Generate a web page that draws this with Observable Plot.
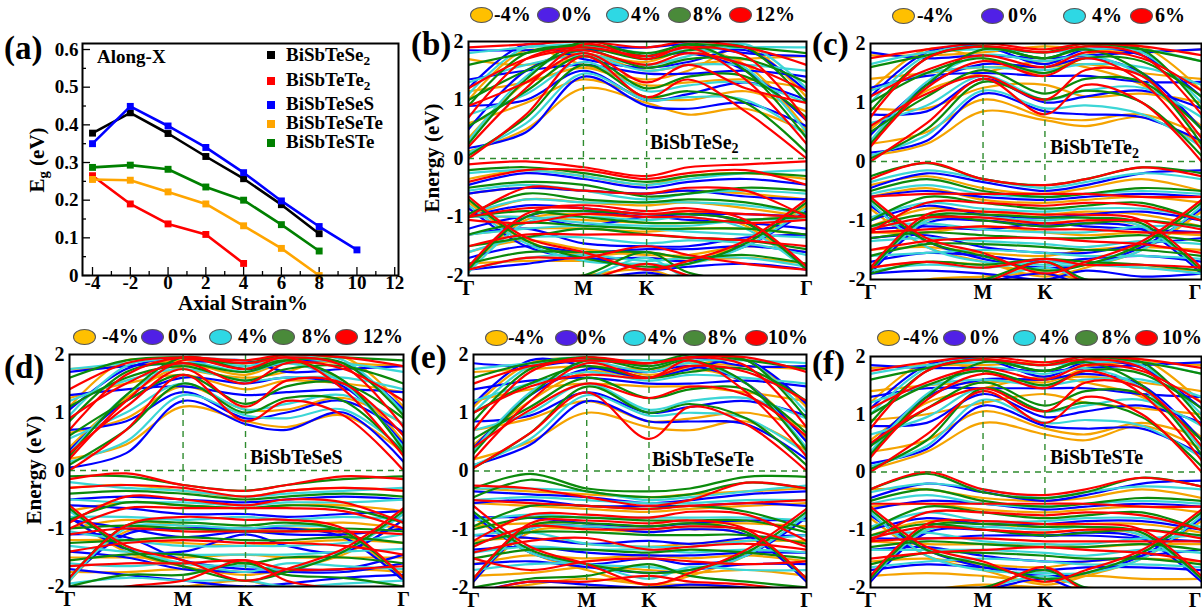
<!DOCTYPE html>
<html><head><meta charset="utf-8">
<script src="https://cdn.jsdelivr.net/npm/d3@7"></script>
<script src="https://cdn.jsdelivr.net/npm/@observablehq/plot@0.6"></script>
<style>
html,body{margin:0;padding:0;background:#fff;overflow:hidden;}
#fig{position:relative;width:1202px;height:613px;overflow:hidden;font-family:"Liberation Serif","Times New Roman",serif;font-weight:bold;color:#000;}
.abs{position:absolute;white-space:nowrap;line-height:1;}
.rot{position:absolute;white-space:nowrap;line-height:1;transform:translate(-50%,-50%) rotate(-90deg);}
.ell{position:absolute;border:1px solid #555;border-radius:50%;box-sizing:border-box;}
.sq{position:absolute;width:8px;height:8px;}
sub{font-size:0.7em;vertical-align:-0.3em;line-height:0;}
</style>
</head><body>
<div id="fig"></div>
<script>
// ---------------- DATA ----------------
// Panel (a): band gap vs axial strain (along X)
const strainA = [-4, -2, 0, 2, 4, 6, 8, 10];
const egBiSbTeSe2  = [0.378, 0.432, 0.377, 0.316, 0.257, 0.188, 0.111];
const egBiSbTeTe2  = [0.265, 0.190, 0.137, 0.109, 0.032];
const egBiSbTeSeS  = [0.350, 0.449, 0.397, 0.340, 0.273, 0.198, 0.130, 0.068];
const egBiSbTeSeTe = [0.255, 0.253, 0.222, 0.190, 0.132, 0.072, 0.000];
const egBiSbTeSTe  = [0.287, 0.293, 0.282, 0.235, 0.200, 0.135, 0.065];
const seriesNamesA = ["BiSbTeSe2", "BiSbTeTe2", "BiSbTeSeS", "BiSbTeSeTe", "BiSbTeSTe"];
const seriesColorsA = ["#000000", "#ff0000", "#0000ff", "#ffa500", "#008000"];
const xTicksA = [-4, -2, 0, 2, 4, 6, 8, 10, 12];
const xMinorA = [-3, -1, 1, 3, 5, 7, 9, 11];
const yTicksA = [0, 0.1, 0.2, 0.3, 0.4, 0.5, 0.6];
const yMinorA = [0.05, 0.15, 0.25, 0.35, 0.45, 0.55];

// Band structure panels: k-path sample points and labels
const kPos = [0, 0.17, 0.34, 0.527, 0.65, 0.82, 1];
const kTicks = [0, 0.34, 0.527, 1];
const kLabels = ["Γ", "M", "K", "Γ"];
const energyTicks = [-2, -1, 0, 1, 2];
const lineColors = ["#f5a300", "#0000ff", "#3cd6d6", "#0b8a0b", "#ff0000"];
const legendColors = ["#ffc000", "#5020e6", "#2ed8e4", "#4a8a3a", "#ff0000"];
const strainsB = ["-4%", "0%", "4%", "8%", "12%"];
const strainsC = ["-4%", "0%", "4%", "6%"];
const strainsD = ["-4%", "0%", "4%", "8%", "12%"];
const strainsE = ["-4%", "0%", "4%", "8%", "10%"];
const strainsF = ["-4%", "0%", "4%", "8%", "10%"];

// rows: [strain index, E(Γ), E(0.17), E(M), E(K), E(0.65), E(0.82), E(Γ)]
const bandsB = [
[0,0.12,0.5,1.2,0.95,0.75,0.85,0.45],[0,0.6,0.95,1.35,1.05,1.0,1.15,0.8],[0,1.15,1.3,1.55,1.25,1.3,1.35,1.2],[0,1.7,1.6,1.8,1.5,1.6,1.7,1.75],
[0,-0.35,-0.2,-0.3,-0.45,-0.3,-0.25,-0.35],[0,-0.6,-0.5,-0.55,-0.6,-0.55,-0.6,-0.7],[0,-1.0,-0.7,-0.75,-0.8,-0.75,-0.85,-1.0],[0,-1.0,-1.0,-1.05,-1.1,-1.1,-1.05,-1.0],
[0,-1.3,-1.2,-1.2,-1.25,-1.2,-1.2,-1.3],[0,-1.6,-1.4,-1.55,-1.65,-1.65,-1.5,-1.6],[0,-1.8,-1.75,-1.75,-1.7,-1.75,-1.7,-1.8],[0,-2.3,-2.1,-2.0,-1.9,-2.1,-2.2,-2.3],
[0,0.35,1.3,1.75,1.65,1.85,1.6,0.5],[0,1.0,1.85,1.6,1.35,1.5,1.9,1.05],[0,-1.9,-1.05,-0.95,-1.0,-0.9,-1.15,-1.9],[0,-0.75,-1.4,-1.65,-1.6,-1.7,-1.45,-0.8],
[1,0.18,0.45,1.4,0.9,0.85,0.95,0.55],[1,0.9,1.0,1.5,1.0,1.1,1.3,1.0],[1,1.35,1.5,1.6,1.45,1.45,1.5,1.4],[1,1.85,1.85,1.9,1.9,1.95,1.8,1.75],
[1,-0.45,-0.25,-0.35,-0.5,-0.4,-0.35,-0.45],[1,-0.6,-0.5,-0.55,-0.6,-0.55,-0.65,-0.7],[1,-1.0,-0.8,-0.85,-0.95,-0.95,-0.95,-1.0],[1,-1.2,-1.0,-1.15,-1.0,-1.05,-1.1,-1.2],
[1,-1.3,-1.2,-1.45,-1.5,-1.5,-1.35,-1.3],[1,-1.7,-1.5,-1.6,-1.55,-1.55,-1.5,-1.6],[1,-1.9,-1.8,-1.7,-1.9,-1.85,-1.8,-1.9],[1,-2.2,-2.2,-2.1,-1.95,-2.1,-2.2,-2.2],
[1,0.5,1.5,1.85,1.75,1.8,1.5,0.65],[1,1.2,1.95,1.7,1.55,1.65,1.85,1.15],[1,-1.85,-1.0,-0.9,-1.0,-0.95,-1.1,-1.85],[1,-0.85,-1.5,-1.7,-1.7,-1.75,-1.5,-0.9],
[2,0.1,0.6,1.45,1.0,1.05,1.0,0.4],[2,0.75,1.1,1.65,1.15,1.25,1.3,0.95],[2,1.3,1.6,1.75,1.5,1.6,1.6,1.5],[2,1.8,1.9,1.95,1.8,1.85,1.9,1.9],
[2,-0.25,-0.2,-0.3,-0.45,-0.35,-0.25,-0.2],[2,-0.55,-0.45,-0.55,-0.7,-0.6,-0.55,-0.6],[2,-0.95,-0.7,-0.75,-0.75,-0.75,-0.8,-0.95],[2,-1.0,-1.0,-1.1,-1.15,-1.15,-1.05,-1.05],
[2,-1.3,-1.2,-1.15,-1.2,-1.25,-1.3,-1.35],[2,-1.6,-1.35,-1.35,-1.45,-1.4,-1.45,-1.65],[2,-1.9,-1.7,-1.65,-1.75,-1.7,-1.7,-1.85],[2,-2.2,-2.1,-2.05,-1.7,-2.05,-2.1,-2.2],
[2,0.3,1.4,1.9,1.7,1.9,1.55,0.45],[2,1.1,1.9,1.8,1.6,1.75,1.95,1.2],[2,-1.95,-1.1,-1.0,-1.05,-1.0,-1.2,-1.9],[2,-0.8,-1.45,-1.75,-1.8,-1.8,-1.5,-0.85],
[3,0.05,0.7,1.6,1.05,1.15,0.95,0.1],[3,0.55,1.15,1.75,1.2,1.4,1.4,0.7],[3,1.0,1.5,1.85,1.55,1.7,1.7,1.3],[3,1.6,1.8,1.95,1.8,1.95,1.9,1.8],
[3,-0.2,-0.15,-0.25,-0.4,-0.3,-0.25,-0.3],[3,-0.5,-0.4,-0.45,-0.65,-0.6,-0.5,-0.55],[3,-0.95,-0.6,-0.7,-0.75,-0.7,-0.75,-0.95],[3,-1.0,-0.9,-1.0,-1.1,-1.1,-1.05,-1.0],
[3,-1.3,-1.1,-1.15,-1.2,-1.2,-1.2,-1.3],[3,-1.5,-1.35,-1.2,-1.3,-1.35,-1.4,-1.55],[3,-1.8,-1.6,-1.6,-1.6,-1.7,-1.65,-1.8],[3,-2.2,-2.1,-2.0,-1.6,-1.95,-2.1,-2.2],
[3,0.25,1.35,2.0,1.75,1.95,1.5,0.35],[3,0.9,1.8,1.9,1.7,1.85,1.9,0.95],[3,-1.9,-1.0,-0.9,-0.95,-0.95,-1.1,-1.9],[3,-0.7,-1.4,-1.7,-1.85,-1.8,-1.45,-0.75],
[4,0.0,0.75,1.75,1.05,1.35,0.8,0.0],[4,0.9,1.3,1.8,1.3,1.6,1.2,0.95],[4,1.2,1.7,1.85,1.6,1.8,1.6,1.15],[4,1.9,1.95,2.0,1.9,2.0,1.9,1.6],
[4,-0.1,-0.05,-0.15,-0.3,-0.15,-0.1,-0.05],[4,-0.4,-0.2,-0.2,-0.35,-0.25,-0.2,-0.45],[4,-1.0,-0.5,-0.55,-0.6,-0.5,-0.55,-1.0],[4,-1.0,-0.85,-0.85,-0.95,-0.9,-0.95,-1.0],
[4,-1.05,-1.1,-0.95,-1.0,-1.0,-1.1,-1.05],[4,-1.5,-1.3,-1.3,-1.3,-1.35,-1.4,-1.5],[4,-1.9,-1.7,-1.7,-1.5,-1.65,-1.8,-1.9],[4,-2.3,-2.2,-2.1,-1.8,-2.0,-2.2,-2.3],
[4,0.2,1.2,1.95,1.7,1.9,1.35,0.25],[4,0.7,1.7,1.9,1.75,1.9,1.75,0.65],[4,-1.85,-0.95,-0.8,-0.9,-0.85,-1.05,-1.85],[4,-0.65,-1.35,-1.6,-1.9,-1.75,-1.4,-0.7]
];
const bandsC = [
[0,0.1,0.3,0.85,0.7,0.6,0.75,0.3],[0,0.3,0.5,1.05,0.75,0.7,0.8,0.45],[0,0.9,0.9,1.25,1.3,1.1,1.15,1.0],[0,1.4,1.5,1.6,1.6,1.65,1.5,1.4],[0,1.8,1.8,1.85,1.95,1.9,1.85,1.9],
[0,-0.4,-0.25,-0.45,-0.55,-0.45,-0.3,-0.5],[0,-0.6,-0.45,-0.65,-0.7,-0.65,-0.6,-0.7],[0,-1.1,-0.8,-0.85,-0.9,-0.85,-0.9,-1.1],[0,-1.2,-1.2,-1.1,-1.2,-1.25,-1.2,-1.25],
[0,-1.5,-1.45,-1.55,-1.6,-1.5,-1.45,-1.5],[0,-1.8,-1.7,-1.75,-1.85,-1.75,-1.8,-1.85],[0,-2.2,-2.0,-1.95,-1.9,-2.0,-2.05,-2.2],
[0,0.55,1.2,1.5,1.7,1.6,1.3,0.6],[0,1.2,1.9,1.75,1.5,1.8,1.95,1.2],[0,-1.9,-1.0,-1.0,-1.05,-1.0,-1.1,-1.85],[0,-0.8,-1.45,-1.7,-1.95,-1.8,-1.5,-0.85],
[1,0.15,0.35,1.15,0.85,0.8,0.75,0.35],[1,0.8,0.85,1.4,1.0,1.1,1.2,0.9],[1,1.25,1.45,1.5,1.45,1.45,1.35,1.35],[1,1.85,1.75,1.8,1.75,1.8,1.85,1.9],
[1,-0.45,-0.2,-0.35,-0.5,-0.4,-0.2,-0.15],[1,-0.6,-0.5,-0.6,-0.65,-0.6,-0.55,-0.6],[1,-1.0,-0.75,-0.9,-0.95,-0.9,-0.85,-1.0],[1,-1.15,-1.1,-1.15,-1.05,-1.1,-1.15,-1.2],
[1,-1.3,-1.25,-1.45,-1.55,-1.55,-1.4,-1.3],[1,-1.7,-1.55,-1.6,-1.7,-1.65,-1.6,-1.7],[1,-1.9,-1.85,-1.9,-2.0,-1.85,-1.95,-1.9],[1,-2.3,-2.2,-2.05,-1.9,-2.1,-2.2,-2.3],
[1,0.45,1.3,1.65,1.6,1.75,1.5,0.55],[1,1.1,1.85,1.95,1.65,1.9,1.8,1.1],[1,-1.9,-1.05,-1.0,-1.1,-1.05,-1.15,-1.9],[1,-0.75,-1.35,-1.65,-1.8,-1.75,-1.45,-0.8],
[2,0.1,0.45,1.2,0.9,0.95,0.8,0.25],[2,0.65,0.95,1.45,1.05,1.2,1.25,0.75],[2,1.2,1.5,1.6,1.55,1.65,1.6,1.3],[2,1.65,1.85,1.9,1.85,1.9,1.9,1.7],
[2,-0.35,-0.15,-0.3,-0.45,-0.35,-0.2,-0.3],[2,-0.55,-0.4,-0.55,-0.6,-0.55,-0.5,-0.55],[2,-0.95,-0.7,-0.8,-0.85,-0.8,-0.8,-0.95],[2,-1.1,-1.05,-1.15,-1.2,-1.2,-1.1,-1.1],
[2,-1.35,-1.3,-1.35,-1.4,-1.45,-1.35,-1.4],[2,-1.6,-1.55,-1.5,-1.55,-1.6,-1.6,-1.65],[2,-1.85,-1.75,-1.8,-1.7,-1.75,-1.8,-1.9],[2,-2.2,-2.1,-2.0,-1.8,-2.0,-2.1,-2.2],
[2,0.35,1.35,1.8,1.7,1.8,1.45,0.4],[2,1.0,1.8,1.95,1.75,1.95,1.85,1.0],[2,-1.85,-1.0,-0.95,-1.0,-0.95,-1.1,-1.85],[2,-0.7,-1.45,-1.7,-1.75,-1.75,-1.5,-0.75],
[3,0.05,0.55,1.35,1.05,1.2,1.0,0.1],[3,0.5,1.1,1.55,1.15,1.4,1.35,0.55],[3,1.0,1.5,1.75,1.5,1.75,1.7,1.1],[3,1.6,1.8,1.95,1.85,2.0,1.9,1.7],
[3,-0.25,-0.03,-0.3,-0.4,-0.3,-0.1,-0.2],[3,-0.5,-0.3,-0.5,-0.6,-0.55,-0.45,-0.5],[3,-1.0,-0.6,-0.7,-0.8,-0.75,-0.7,-1.0],[3,-1.1,-0.9,-1.0,-1.1,-1.05,-1.0,-1.1],
[3,-1.3,-1.2,-1.25,-1.3,-1.3,-1.25,-1.35],[3,-1.6,-1.4,-1.4,-1.45,-1.5,-1.5,-1.6],[3,-1.9,-1.7,-1.75,-1.65,-1.7,-1.75,-1.85],[3,-2.3,-2.1,-2.0,-1.7,-2.0,-2.1,-2.3],
[3,0.3,1.3,1.9,1.75,1.9,1.5,0.3],[3,0.85,1.75,1.95,1.75,1.95,1.9,0.9],[3,-1.85,-0.95,-0.9,-0.95,-0.95,-1.05,-1.85],[3,-0.65,-1.35,-1.6,-1.85,-1.75,-1.4,-0.7],
[4,0.0,0.65,1.4,0.8,1.3,1.0,0.0],[4,0.6,1.15,1.45,1.05,1.55,1.45,0.4],[4,1.1,1.55,1.8,1.6,1.85,1.75,1.2],[4,1.75,1.9,2.0,1.9,2.0,1.95,1.8],
[4,-0.3,-0.02,-0.3,-0.4,-0.3,-0.1,-0.25],[4,-0.6,-0.55,-0.55,-0.55,-0.55,-0.6,-0.6],[4,-1.2,-0.7,-0.7,-0.75,-0.7,-0.75,-1.0],[4,-1.15,-0.95,-0.95,-1.05,-1.0,-1.0,-1.15],
[4,-1.2,-1.15,-1.1,-1.15,-1.15,-1.2,-1.2],[4,-1.5,-1.35,-1.3,-1.3,-1.35,-1.4,-1.55],[4,-1.8,-1.7,-1.8,-1.65,-1.75,-1.75,-1.8],[4,-2.3,-2.15,-2.05,-1.7,-2.05,-2.15,-2.3],
[4,0.25,1.25,1.7,1.45,1.75,1.35,0.2],[4,0.75,1.75,1.95,1.85,1.95,1.8,0.8],[4,-1.8,-0.9,-0.85,-0.9,-0.9,-1.0,-1.8],[4,-0.6,-1.3,-1.55,-1.9,-1.7,-1.35,-0.65]
];
const bandsD = [
[0,0.2,0.45,1.1,0.85,0.75,0.95,0.3],[0,0.65,0.9,1.45,1.05,1.05,1.25,0.8],[0,1.25,1.5,1.65,1.4,1.55,1.5,1.35],[0,1.75,1.8,1.9,1.85,1.9,1.85,1.8],
[0,-0.3,-0.25,-0.35,-0.45,-0.35,-0.3,-0.35],[0,-0.7,-0.55,-0.6,-0.65,-0.6,-0.6,-0.7],[0,-1.0,-0.85,-0.95,-1.0,-0.95,-0.9,-1.0],[0,-1.2,-1.2,-1.25,-1.3,-1.25,-1.2,-1.25],
[0,-1.5,-1.5,-1.5,-1.45,-1.5,-1.5,-1.5],[0,-1.75,-1.75,-1.7,-1.75,-1.75,-1.7,-1.75],[0,-2.2,-2.05,-2.0,-1.9,-2.05,-2.1,-2.2],
[0,0.4,1.25,1.8,1.65,1.85,1.55,0.5],[0,1.1,1.9,1.75,1.6,1.7,1.95,1.1],[0,-1.9,-1.05,-1.0,-1.05,-1.0,-1.1,-1.9],[0,-0.8,-1.4,-1.65,-1.8,-1.7,-1.45,-0.85],
[1,0.05,0.3,1.2,0.8,0.7,1.0,0.15],[1,0.7,0.85,1.35,0.9,1.0,1.2,0.65],[1,1.3,1.4,1.45,1.3,1.35,1.4,1.35],[1,1.7,1.8,1.85,1.9,1.7,1.75,1.8],
[1,-0.5,-0.45,-0.5,-0.55,-0.5,-0.45,-0.5],[1,-0.6,-0.65,-0.75,-0.75,-0.8,-0.75,-0.7],[1,-0.85,-1.0,-1.15,-1.05,-1.1,-1.1,-1.0],[1,-1.1,-1.15,-1.55,-1.7,-1.7,-1.7,-1.45],
[1,-1.4,-1.5,-1.7,-1.75,-1.75,-1.75,-1.6],[1,-1.7,-1.8,-1.9,-2.0,-1.95,-1.85,-1.8],[1,-2.2,-2.1,-2.05,-2.1,-2.2,-2.15,-2.2],
[1,0.35,1.2,1.6,1.5,1.6,1.45,0.45],[1,1.05,1.75,1.95,1.75,1.85,1.85,1.05],[1,-1.85,-1.1,-1.0,-1.0,-1.0,-1.15,-1.9],[1,-0.8,-1.35,-1.4,-1.1,-1.3,-1.4,-0.85],
[2,0.15,0.5,1.3,0.95,0.9,1.05,0.35],[2,0.55,1.0,1.5,1.05,1.15,1.3,0.8],[2,1.2,1.55,1.75,1.55,1.6,1.6,1.4],[2,1.75,1.85,1.95,1.9,1.95,1.85,1.7],
[2,-0.2,-0.3,-0.35,-0.45,-0.4,-0.35,-0.3],[2,-0.5,-0.55,-0.55,-0.6,-0.55,-0.55,-0.5],[2,-0.8,-0.8,-0.85,-0.8,-0.85,-0.8,-0.85],[2,-1.05,-1.2,-1.3,-1.3,-1.3,-1.25,-1.1],
[2,-1.3,-1.4,-1.45,-1.45,-1.45,-1.4,-1.35],[2,-1.6,-1.65,-1.6,-1.75,-1.6,-1.65,-1.7],[2,-1.95,-1.85,-1.9,-1.9,-2.0,-1.95,-1.9],
[2,0.3,1.3,1.85,1.7,1.85,1.5,0.4],[2,0.95,1.8,1.95,1.8,1.95,1.9,1.0],[2,-1.9,-1.0,-0.95,-1.0,-0.95,-1.05,-1.85],[2,-0.7,-1.3,-1.6,-1.65,-1.7,-1.4,-0.75],
[3,0.1,0.7,1.5,1.0,1.25,1.2,0.3],[3,0.6,1.2,1.65,1.15,1.45,1.5,0.9],[3,1.1,1.6,1.8,1.55,1.75,1.8,1.5],[3,1.6,1.9,1.95,1.85,2.0,1.95,1.9],
[3,-0.1,-0.1,-0.25,-0.35,-0.25,-0.15,-0.1],[3,-0.4,-0.35,-0.4,-0.5,-0.45,-0.4,-0.45],[3,-0.85,-0.55,-0.6,-0.65,-0.6,-0.65,-0.9],[3,-1.0,-0.95,-1.0,-1.05,-1.05,-1.0,-1.05],
[3,-1.25,-1.2,-1.15,-1.2,-1.2,-1.15,-1.25],[3,-1.55,-1.45,-1.45,-1.6,-1.5,-1.5,-1.6],[3,-2.0,-1.8,-1.8,-1.6,-1.8,-1.85,-2.0],
[3,0.25,1.3,1.95,1.75,1.9,1.55,0.35],[3,0.85,1.7,1.85,1.7,1.9,1.85,0.95],[3,-1.85,-0.95,-0.9,-0.95,-0.9,-1.05,-1.85],[3,-0.65,-1.35,-1.65,-1.9,-1.75,-1.4,-0.7],
[4,0.0,0.7,1.65,0.85,1.2,0.95,0.0],[4,0.3,1.1,1.75,1.1,1.55,1.5,0.6],[4,0.9,1.5,1.85,1.5,1.85,1.75,1.2],[4,1.4,1.85,1.95,1.9,2.0,1.95,1.8],
[4,-0.15,-0.05,-0.25,-0.35,-0.25,-0.1,-0.15],[4,-0.3,-0.25,-0.3,-0.45,-0.35,-0.3,-0.35],[4,-0.9,-0.45,-0.5,-0.6,-0.5,-0.55,-0.9],[4,-1.0,-0.65,-0.65,-0.65,-0.65,-0.7,-1.0],
[4,-1.1,-1.0,-1.05,-1.05,-1.05,-1.05,-1.1],[4,-1.4,-1.25,-1.2,-1.25,-1.25,-1.3,-1.45],[4,-1.65,-1.6,-1.6,-1.55,-1.7,-1.7,-1.65],[4,-2.2,-2.0,-1.9,-1.55,-1.9,-2.05,-2.2],
[4,0.2,1.2,1.9,1.75,1.95,1.4,0.25],[4,0.7,1.65,1.95,1.85,1.95,1.8,0.75],[4,-1.85,-0.95,-0.8,-0.85,-0.85,-1.0,-1.85],[4,-0.6,-1.3,-1.55,-1.9,-1.7,-1.35,-0.65]
];
const bandsE = [
[0,0.2,0.5,1.0,0.75,0.7,0.85,0.35],[0,0.7,0.9,1.2,0.85,0.9,1.0,0.75],[0,1.2,1.4,1.5,1.45,1.45,1.35,1.2],[0,1.7,1.75,1.8,1.75,1.85,1.8,1.75],
[0,-0.3,-0.35,-0.4,-0.45,-0.4,-0.35,-0.3],[0,-0.55,-0.6,-0.65,-0.7,-0.65,-0.6,-0.55],[0,-0.95,-0.9,-0.95,-0.95,-0.9,-0.9,-0.95],[0,-1.2,-1.15,-1.25,-1.3,-1.25,-1.2,-1.2],
[0,-1.6,-1.45,-1.5,-1.45,-1.5,-1.45,-1.55],[0,-1.8,-1.75,-1.65,-1.7,-1.75,-1.7,-1.8],[0,-2.1,-1.95,-1.85,-1.95,-1.95,-2.0,-2.1],
[0,0.45,1.2,1.7,1.6,1.75,1.5,0.55],[0,1.1,1.85,1.9,1.65,1.8,1.9,1.1],[0,-1.9,-1.05,-1.0,-1.05,-1.0,-1.1,-1.9],[0,-0.8,-1.4,-1.7,-1.95,-1.8,-1.45,-0.8],
[1,0.1,0.45,1.2,0.85,0.85,0.8,0.2],[1,0.85,0.95,1.35,1.0,1.1,1.2,0.95],[1,1.4,1.55,1.6,1.5,1.5,1.55,1.45],[1,1.85,1.8,1.9,1.85,1.95,1.8,1.8],
[1,-0.35,-0.4,-0.45,-0.55,-0.5,-0.4,-0.35],[1,-0.55,-0.5,-0.6,-0.6,-0.6,-0.55,-0.6],[1,-0.8,-0.8,-0.9,-0.95,-0.9,-0.85,-0.85],[1,-1.1,-1.15,-1.25,-1.2,-1.25,-1.15,-1.1],
[1,-1.35,-1.3,-1.4,-1.45,-1.45,-1.4,-1.4],[1,-1.6,-1.55,-1.65,-1.75,-1.7,-1.6,-1.6],[1,-2.1,-1.9,-1.95,-2.0,-1.95,-2.0,-2.1],
[1,0.4,1.3,1.75,1.7,1.8,1.5,0.5],[1,1.15,1.9,1.8,1.6,1.75,1.9,1.15],[1,-1.9,-1.0,-0.95,-1.05,-1.0,-1.1,-1.9],[1,-0.75,-1.4,-1.6,-1.5,-1.6,-1.45,-0.8],
[2,0.1,0.55,1.3,0.95,1.0,0.9,0.3],[2,0.7,1.0,1.5,1.05,1.2,1.25,0.9],[2,1.2,1.5,1.7,1.55,1.65,1.6,1.5],[2,1.75,1.85,1.9,1.9,1.9,1.9,1.85],
[2,-0.3,-0.3,-0.35,-0.5,-0.45,-0.35,-0.25],[2,-0.5,-0.45,-0.5,-0.55,-0.55,-0.5,-0.5],[2,-0.85,-0.75,-0.8,-0.8,-0.8,-0.8,-0.85],[2,-1.1,-1.05,-1.25,-1.3,-1.3,-1.2,-1.1],
[2,-1.4,-1.3,-1.35,-1.35,-1.4,-1.35,-1.4],[2,-1.7,-1.6,-1.6,-1.85,-1.65,-1.7,-1.7],
[2,0.35,1.35,1.85,1.7,1.85,1.5,0.4],[2,1.0,1.8,1.95,1.8,1.95,1.9,1.0],[2,-1.85,-1.0,-0.95,-1.0,-0.95,-1.05,-1.85],[2,-0.7,-1.4,-1.6,-1.65,-1.7,-1.45,-0.75],
[3,0.05,0.65,1.45,1.0,1.15,0.9,0.1],[3,0.55,1.1,1.6,1.25,1.4,1.4,0.65],[3,1.0,1.5,1.8,1.6,1.7,1.75,1.2],[3,1.6,1.85,1.95,1.85,2.0,1.9,1.75],
[3,-0.3,-0.05,-0.3,-0.35,-0.3,-0.1,-0.1],[3,-0.45,-0.15,-0.35,-0.45,-0.4,-0.2,-0.3],[3,-0.95,-0.6,-0.6,-0.65,-0.6,-0.7,-1.0],[3,-1.0,-0.8,-0.8,-0.85,-0.85,-0.85,-1.05],
[3,-1.25,-1.05,-1.05,-1.1,-1.1,-1.1,-1.25],[3,-1.5,-1.35,-1.35,-1.4,-1.35,-1.4,-1.5],[3,-2.0,-1.85,-1.8,-1.6,-1.8,-1.9,-2.0],
[3,0.3,1.3,1.9,1.75,1.9,1.5,0.35],[3,0.85,1.75,1.95,1.8,1.95,1.9,0.9],[3,-1.85,-0.95,-0.9,-0.95,-0.9,-1.05,-1.85],[3,-0.7,-1.35,-1.6,-1.75,-1.7,-1.4,-0.7],
[4,0.05,0.65,1.35,0.55,1.1,0.8,0.0],[4,0.4,1.05,1.5,1.25,1.45,1.3,0.6],[4,1.0,1.45,1.65,1.6,1.8,1.7,1.2],[4,1.5,1.8,1.9,1.85,1.95,1.95,1.7],
[4,-0.25,-0.3,-0.45,-0.6,-0.5,-0.2,-0.3],[4,-0.5,-0.55,-0.6,-0.65,-0.6,-0.55,-0.5],[4,-1.2,-0.75,-0.75,-0.8,-0.7,-0.75,-1.2],[4,-1.3,-0.95,-1.0,-1.0,-0.95,-1.0,-1.3],
[4,-1.4,-1.2,-1.15,-1.35,-1.3,-1.25,-1.35],[4,-1.5,-1.7,-1.55,-1.5,-1.55,-1.6,-1.55],[4,-2.1,-1.9,-1.9,-1.8,-1.9,-1.95,-2.1],
[4,0.2,1.2,1.85,1.6,1.9,1.35,0.25],[4,0.7,1.7,1.95,1.85,1.95,1.8,0.75],[4,-1.85,-0.9,-0.85,-0.9,-0.85,-1.0,-1.85],[4,-0.6,-1.3,-1.6,-1.95,-1.75,-1.35,-0.65]
];
const bandsF = [
[0,0.05,0.35,0.85,0.65,0.55,0.8,0.4],[0,0.35,0.55,1.05,0.75,0.65,0.85,0.6],[0,0.9,1.0,1.2,1.35,1.2,1.1,1.0],[0,1.4,1.5,1.55,1.6,1.65,1.55,1.4],[0,1.8,1.85,1.85,1.9,1.85,1.9,1.85],
[0,-0.3,-0.3,-0.45,-0.5,-0.45,-0.3,-0.45],[0,-0.6,-0.55,-0.65,-0.7,-0.65,-0.6,-0.7],[0,-1.1,-0.85,-0.9,-0.95,-0.9,-0.9,-1.05],[0,-1.2,-1.25,-1.25,-1.25,-1.3,-1.25,-1.25],
[0,-1.55,-1.5,-1.6,-1.65,-1.55,-1.5,-1.55],[0,-1.8,-1.75,-1.8,-1.9,-1.8,-1.85,-1.85],[0,-2.2,-2.05,-1.95,-2.0,-2.0,-2.1,-2.2],
[0,0.55,1.2,1.45,1.65,1.55,1.3,0.6],[0,1.2,1.9,1.75,1.55,1.8,1.95,1.2],[0,-1.9,-1.0,-1.0,-1.05,-1.0,-1.1,-1.85],[0,-0.8,-1.45,-1.7,-1.95,-1.8,-1.5,-0.85],
[1,0.15,0.4,1.15,0.8,0.75,0.75,0.3],[1,0.8,0.85,1.35,0.95,1.05,1.15,0.85],[1,1.3,1.45,1.45,1.45,1.45,1.35,1.3],[1,1.85,1.8,1.8,1.75,1.8,1.85,1.9],
[1,-0.45,-0.2,-0.35,-0.5,-0.4,-0.2,-0.15],[1,-0.65,-0.5,-0.55,-0.65,-0.6,-0.55,-0.6],[1,-1.0,-0.8,-0.9,-0.9,-0.85,-0.85,-1.0],[1,-1.15,-1.15,-1.1,-1.1,-1.1,-1.15,-1.2],
[1,-1.35,-1.3,-1.45,-1.55,-1.55,-1.45,-1.35],[1,-1.7,-1.6,-1.65,-1.7,-1.65,-1.65,-1.7],[1,-2.2,-2.15,-2.05,-1.85,-2.1,-2.2,-2.2],
[1,0.45,1.3,1.6,1.6,1.7,1.5,0.55],[1,1.1,1.85,1.95,1.65,1.9,1.8,1.1],[1,-1.9,-1.05,-1.0,-1.1,-1.05,-1.15,-1.9],[1,-0.75,-1.35,-1.65,-1.8,-1.75,-1.45,-0.8],
[2,0.1,0.45,1.25,0.85,0.9,0.8,0.25],[2,0.65,0.95,1.45,1.05,1.15,1.25,0.8],[2,1.2,1.5,1.6,1.5,1.6,1.6,1.3],[2,1.7,1.85,1.9,1.85,1.9,1.9,1.7],
[2,-0.35,-0.2,-0.3,-0.45,-0.35,-0.25,-0.3],[2,-0.55,-0.4,-0.55,-0.6,-0.55,-0.5,-0.55],[2,-0.95,-0.7,-0.85,-0.85,-0.8,-0.8,-0.95],[2,-1.1,-1.05,-1.2,-1.25,-1.25,-1.15,-1.1],
[2,-1.35,-1.35,-1.35,-1.4,-1.45,-1.35,-1.4],[2,-1.65,-1.55,-1.5,-1.55,-1.6,-1.6,-1.65],[2,-2.2,-2.1,-2.0,-1.8,-2.0,-2.1,-2.2],
[2,0.35,1.35,1.8,1.7,1.8,1.45,0.4],[2,1.0,1.8,1.95,1.75,1.95,1.85,1.0],[2,-1.85,-1.0,-0.95,-1.0,-0.95,-1.1,-1.85],[2,-0.7,-1.45,-1.7,-1.75,-1.75,-1.5,-0.75],
[3,0.05,0.55,1.45,1.05,1.2,0.95,0.1],[3,0.45,1.1,1.55,1.15,1.4,1.35,0.55],[3,1.0,1.5,1.75,1.5,1.75,1.7,1.1],[3,1.6,1.8,1.95,1.85,2.0,1.9,1.7],
[3,-0.3,-0.03,-0.35,-0.45,-0.35,-0.1,-0.25],[3,-0.5,-0.3,-0.5,-0.6,-0.55,-0.45,-0.5],[3,-1.0,-0.6,-0.7,-0.8,-0.75,-0.7,-1.0],[3,-1.1,-0.9,-1.0,-1.1,-1.05,-1.0,-1.1],
[3,-1.3,-1.2,-1.25,-1.3,-1.3,-1.25,-1.35],[3,-1.6,-1.4,-1.4,-1.45,-1.5,-1.5,-1.6],[3,-2.3,-2.1,-2.0,-1.7,-2.0,-2.1,-2.3],
[3,0.3,1.3,1.9,1.75,1.9,1.5,0.3],[3,0.85,1.75,1.95,1.75,1.95,1.9,0.9],[3,-1.85,-0.95,-0.9,-0.95,-0.95,-1.05,-1.85],[3,-0.65,-1.35,-1.6,-1.85,-1.75,-1.4,-0.7],
[4,0.0,0.65,1.4,0.85,1.3,1.0,0.0],[4,0.5,1.1,1.45,1.05,1.55,1.45,0.45],[4,1.1,1.55,1.8,1.6,1.85,1.75,1.2],[4,1.75,1.9,2.0,1.9,2.0,1.95,1.8],
[4,-0.3,0.0,-0.3,-0.4,-0.3,-0.1,-0.25],[4,-0.55,-0.55,-0.55,-0.55,-0.55,-0.6,-0.6],[4,-1.2,-0.7,-0.7,-0.75,-0.7,-0.75,-1.0],[4,-1.15,-0.95,-1.0,-1.05,-1.0,-1.0,-1.15],
[4,-1.2,-1.15,-1.15,-1.2,-1.2,-1.2,-1.2],[4,-1.5,-1.4,-1.35,-1.3,-1.35,-1.4,-1.55],[4,-2.3,-2.15,-2.05,-1.65,-2.05,-2.15,-2.3],
[4,0.25,1.25,1.7,1.45,1.75,1.35,0.2],[4,0.75,1.75,1.95,1.85,1.95,1.8,0.8],[4,-1.8,-0.9,-0.85,-0.9,-0.9,-1.0,-1.8],[4,-0.6,-1.3,-1.55,-1.9,-1.7,-1.35,-0.65]
];

// ---------------- LAYOUT ----------------
const FONT = '"Liberation Serif","Times New Roman",serif';
const fig = document.getElementById("fig");
function place(el, left, top, w) {
  const d = document.createElement("div");
  d.className = "abs";
  d.style.left = left + "px"; d.style.top = top + "px";
  if (w) d.style.width = w + "px";
  d.appendChild(el); fig.appendChild(d); return d;
}
function txt(html, x, baseline, size) {
  const d = document.createElement("div");
  d.className = "abs";
  d.innerHTML = html;
  d.style.fontSize = size + "px";
  d.style.left = x + "px";
  d.style.top = (baseline - 0.891 * size) + "px";
  d.style.zIndex = 5;
  fig.appendChild(d); return d;
}
function rtxt(html, cx, cy, size) {
  const d = document.createElement("div");
  d.className = "rot"; d.innerHTML = html;
  d.style.fontSize = size + "px"; d.style.left = cx + "px"; d.style.top = cy + "px"; d.style.zIndex = 5;
  fig.appendChild(d);
}
const svgStyle = {fontFamily: FONT, fontWeight: "bold", fontSize: "20px", background: "transparent", maxWidth: "none", overflow: "visible"};

// ---------- Panel (a) ----------
(function () {
  const L = 82, R = 398, T = 43, B = 275, mL = 50, mR = 6, mT = 4, mB = 20;
  const series = [egBiSbTeSe2, egBiSbTeTe2, egBiSbTeSeS, egBiSbTeSeTe, egBiSbTeSTe];
  const marks = [];
  const ph = B - T, pw = R - L;
  marks.push(Plot.ruleX(xTicksA, {insetTop: ph - 8, stroke: "#000", strokeWidth: 1.3}));
  marks.push(Plot.ruleX(xMinorA, {insetTop: ph - 4, stroke: "#000", strokeWidth: 1.3}));
  marks.push(Plot.ruleY(yTicksA, {insetRight: pw - 8, stroke: "#000", strokeWidth: 1.3}));
  marks.push(Plot.ruleY(yMinorA, {insetRight: pw - 4, stroke: "#000", strokeWidth: 1.3}));
  series.forEach((vals, i) => {
    const pts = vals.map((v, j) => ({x: strainA[j], y: v}));
    marks.push(Plot.line(pts, {x: "x", y: "y", stroke: seriesColorsA[i], strokeWidth: 2.6}));
    marks.push(Plot.dot(pts, {x: "x", y: "y", symbol: "square", r: 3.9, fill: seriesColorsA[i], stroke: "none"}));
  });
  marks.push(Plot.frame({stroke: "#000", strokeWidth: 2}));
  marks.push(Plot.axisX(xTicksA, {tickSize: 0, tickPadding: 0, tickFormat: d => String(d), label: null}));
  marks.push(Plot.axisY(yTicksA, {tickSize: 0, tickPadding: 4, tickFormat: d => d === 0 ? "0" : d.toFixed(1), label: null}));
  const svg = Plot.plot({
    width: pw + mL + mR, height: ph + mT + mB,
    marginLeft: mL, marginRight: mR, marginTop: mT, marginBottom: mB,
    style: Object.assign({}, svgStyle, {fontSize: "19px"}),
    x: {domain: [-4.53, 12.2]}, y: {domain: [0, 0.616]},
    marks
  });
  place(svg, L - mL, T - mT, pw + mL + mR);
  // legend inside (a)
  const legY = [[55, 62], [81, 87], [105, 111], [124, 130], [143, 149]];
  const legHtml = ["BiSbTeSe<sub>2</sub>", "BiSbTeTe<sub>2</sub>", "BiSbTeSeS", "BiSbTeSeTe", "BiSbTeSTe"];
  seriesNamesA.forEach((n, i) => {
    const s = document.createElement("div");
    s.className = "sq"; s.style.background = seriesColorsA[i];
    s.style.left = "267px"; s.style.top = (legY[i][0] - 4) + "px"; s.style.zIndex = 5;
    fig.appendChild(s);
    txt(legHtml[i], 286, legY[i][1], 19);
  });
  txt("Along-X", 97, 64, 19);
  txt("(a)", 4, 61, 33);
  rtxt("E<sub>g</sub> (eV)", 37, 160, 21);
  txt("Axial Strain%", 178, 312, 21);
})();

// ---------- Band panels ----------
function bandPanel(rows, box, strains, legend, name) {
  const mL = 42, mR = 3, mT = 3, mB = 30;
  const pw = box.R - box.L, ph = box.B - box.T;
  const pts = [];
  rows.forEach((r, i) => kPos.forEach((k, j) => pts.push({band: i, s: r[0], k, e: r[j + 1]})));
  const marks = [];
  for (let s = 0; s < 5; s++) {
    marks.push(Plot.line(pts.filter(p => p.s === s), {x: "k", y: "e", z: "band", stroke: lineColors[s], strokeWidth: 2.2, curve: "catmull-rom", clip: true}));
  }
  marks.push(Plot.ruleX(kTicks.slice(1, 3), {stroke: "#2e8b2e", strokeWidth: 1.4, strokeDasharray: "6,5"}));
  marks.push(Plot.ruleY([0], {stroke: "#2e8b2e", strokeWidth: 1.4, strokeDasharray: "6,5"}));
  marks.push(Plot.frame({stroke: "#000", strokeWidth: 2}));
  marks.push(Plot.axisY(energyTicks, {tickSize: 0, tickPadding: 5, tickFormat: d => String(d), label: null}));
  if (box.edgeRight) {
    // the last Γ sits at the page edge: anchor it to its right so it stays visible
    marks.push(Plot.axisX(kTicks.slice(0, 3), {tickSize: 0, tickPadding: 5, tickFormat: (d, i) => kLabels[i], label: null}));
    marks.push(Plot.axisX(kTicks.slice(3), {tickSize: 0, tickPadding: 5, tickFormat: () => kLabels[3], textAnchor: "end", label: null}));
  } else {
    marks.push(Plot.axisX(kTicks, {tickSize: 0, tickPadding: 5, tickFormat: (d, i) => kLabels[i], label: null}));
  }
  const svg = Plot.plot({
    width: pw + mL + mR, height: ph + mT + mB,
    marginLeft: mL, marginRight: mR, marginTop: mT, marginBottom: mB,
    style: svgStyle,
    x: {domain: [0, 1]}, y: {domain: [-2, 2]},
    marks
  });
  place(svg, box.L - mL, box.T - mT, pw + mL + mR);
  // legend
  strains.forEach((lab, i) => {
    const ci = (strains.length === 4 && i === 3) ? 4 : i;
    const e = document.createElement("div");
    e.className = "ell"; e.style.background = legendColors[ci];
    e.style.left = legend.ex[i] + "px"; e.style.top = (legend.cy - 8) + "px";
    e.style.width = "23px"; e.style.height = "16px";
    fig.appendChild(e);
    txt(lab, legend.tx[i], legend.cy + 7, 20);
  });
  txt(name.html, name.x, name.base, 20);
  txt(box.label, box.lx, box.lb, 33);
  if (box.ytitle) rtxt("Energy (eV)", box.ytitle, (box.T + box.B) / 2, 21);
}

bandPanel(bandsB, {L: 468, R: 806, T: 41, B: 275, label: "(b)", lx: 411, lb: 57, ytitle: 432}, strainsB,
  {cy: 15, ex: [470, 537, 606, 668, 729], tx: [494, 562, 631, 693, 755]},
  {html: "BiSbTeSe<sub>2</sub>", x: 650, base: 150});
bandPanel(bandsC, {L: 870, R: 1201, T: 43, B: 279, label: "(c)", lx: 812, lb: 57, edgeRight: true}, strainsC,
  {cy: 16, ex: [892, 981, 1063, 1130], tx: [917, 1008, 1092, 1155]},
  {html: "BiSbTeTe<sub>2</sub>", x: 1050, base: 155});
bandPanel(bandsD, {L: 69, R: 403, T: 354, B: 586, label: "(d)", lx: 4, lb: 380, ytitle: 34}, strainsD,
  {cy: 337, ex: [73, 141, 209, 272, 335], tx: [102, 168, 238, 302, 363]},
  {html: "BiSbTeSeS", x: 250, base: 465});
bandPanel(bandsE, {L: 473, R: 806, T: 354, B: 587, label: "(e)", lx: 410, lb: 370}, strainsE,
  {cy: 338, ex: [485, 555, 623, 683, 745], tx: [508, 577, 648, 708, 768]},
  {html: "BiSbTeSeTe", x: 652, base: 467});
bandPanel(bandsF, {L: 870, R: 1201, T: 356, B: 587, label: "(f)", lx: 812, lb: 376, edgeRight: true}, strainsF,
  {cy: 338, ex: [877, 943, 1013, 1075, 1135], tx: [903, 970, 1040, 1102, 1162]},
  {html: "BiSbTeSTe", x: 1050, base: 465});
</script>
</body></html>
